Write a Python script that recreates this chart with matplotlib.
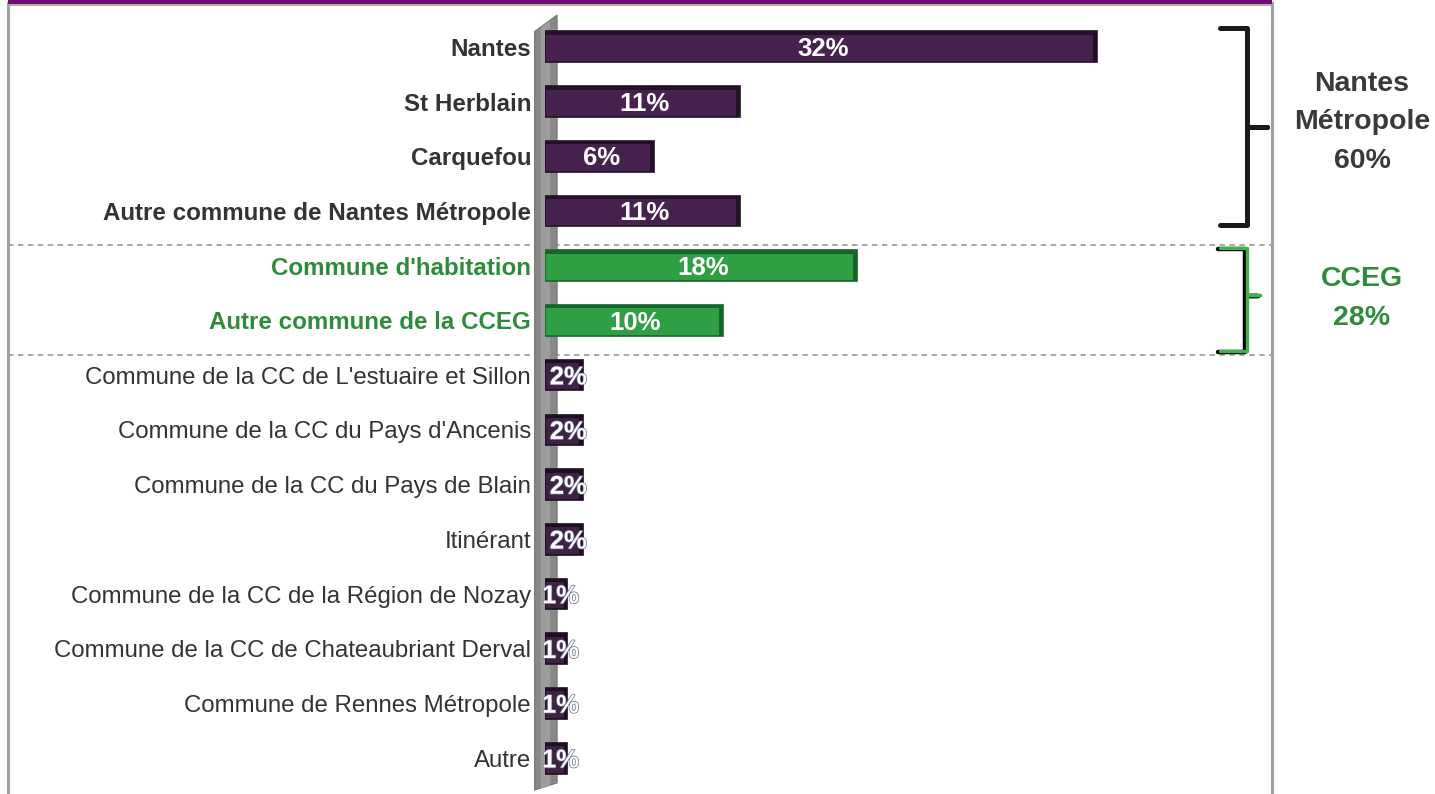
import matplotlib
matplotlib.use("Agg")
import matplotlib.pyplot as plt
import matplotlib.patheffects as pe
from matplotlib.patches import Polygon, Rectangle

plt.rcParams['font.family'] = ['Liberation Sans', 'DejaVu Sans']

categories = [
    "Nantes", "St Herblain", "Carquefou", "Autre commune de Nantes Métropole",
    "Commune d'habitation", "Autre commune de la CCEG",
    "Commune de la CC de L'estuaire et Sillon", "Commune de la CC du Pays d'Ancenis",
    "Commune de la CC du Pays de Blain", "Itinérant",
    "Commune de la CC de la Région de Nozay", "Commune de la CC de Chateaubriant Derval",
    "Commune de Rennes Métropole", "Autre",
]
values = [32.0, 11.3, 6.3, 11.3, 18.1, 10.3, 2.2, 2.2, 2.2, 2.2, 1.3, 1.3, 1.3, 1.3]
value_labels = ["32%", "11%", "6%", "11%", "18%", "10%", "2%", "2%", "2%", "2%",
                "1%", "1%", "1%", "1%"]
groups = ["nm", "nm", "nm", "nm", "cceg", "cceg", "o", "o", "o", "o", "o", "o", "o", "o"]
group_names = ["Nantes\nMétropole\n60%", "CCEG\n28%"]

W, H = 1435, 794
fig = plt.figure(figsize=(W / 100, H / 100), dpi=100)
fig.patch.set_facecolor('white')

# frame (overlay axes in pixel coords)
fr = fig.add_axes([0, 0, 1, 1])
fr.set_xlim(0, W)
fr.set_ylim(H, 0)
fr.axis('off')
fr.add_patch(Rectangle((8, 0), 1264, 3.5, color='#6d0f70', lw=0, zorder=3))
fr.plot([8, 1272], [4.5, 4.5], color='#a0a0a0', lw=1.2)
fr.plot([7.5, 7.5], [3, H], color='#a0a0a0', lw=2.2)
fr.plot([1271.5, 1271.5], [3, H], color='#a0a0a0', lw=2.2)

ppx = 17.25
x0 = 545
ax = fig.add_axes([x0 / W, 1 - 790 / H, (1272 - x0) / W, (790 - 20) / H])
ax.set_xlim(0, (1272 - x0) / ppx)
n = len(categories)
ax.set_ylim(13.58, -0.49)
ax.patch.set_alpha(0)
for s in ax.spines.values():
    s.set_visible(False)
ax.set_xticks([])

# 3D wall
wall = Polygon([(-0.6, -0.28), (0.7, -0.58), (0.7, 13.45), (-0.6, 13.58)],
               closed=True, facecolor='#888888', edgecolor='#747474', lw=0.8, zorder=1,
               clip_on=False)
ax.add_patch(wall)
ax.add_patch(Polygon([(-0.25, -0.35), (0.3, -0.48), (0.3, 13.5), (-0.25, 13.55)],
                     closed=True, facecolor='#9c9c9c', lw=0, zorder=1, clip_on=False))

colors = {'nm': '#47224f', 'cceg': '#2ea043', 'o': '#3f2145'}
dark = {'nm': '#241028', 'cceg': '#17642a', 'o': '#1e0e22'}
ypos = list(range(n))
bar_colors = [colors[g] for g in groups]
edge_colors = [dark[g] for g in groups]
ax.barh(ypos, values, height=0.56, color=bar_colors, edgecolor=edge_colors,
        linewidth=1.2, zorder=2)
# top dark edge and end face for 3D look
ax.barh([y - 0.25 for y in ypos], values, height=0.06, color=edge_colors, lw=0, zorder=3)
ax.barh(ypos, [0.22] * n, left=[v - 0.22 for v in values], height=0.56,
        color=edge_colors, lw=0, zorder=3)

for y, v, lab in zip(ypos, values, value_labels):
    big = v > 5
    ax.text(v / 2 + (0.1 if big else 0.25), y + 0.04, lab, ha='center', va='center',
            color='white', fontsize=18.5, fontweight='bold', zorder=5,
            path_effects=[pe.withStroke(linewidth=1.0, foreground='#6a6a8a')] if not big else None)

ax.set_yticks(ypos)
ax.set_yticklabels(categories)
ax.tick_params(axis='y', length=0, pad=10)
for lab, g in zip(ax.get_yticklabels(), groups):
    if g == 'nm':
        lab.set_fontweight('bold'); lab.set_color('#333333'); lab.set_fontsize(17.4)
    elif g == 'cceg':
        lab.set_fontweight('bold'); lab.set_color('#2e8b3c'); lab.set_fontsize(17.4)
    else:
        lab.set_color('#333333'); lab.set_fontsize(17.3)

# dashed separators
tr = ax.get_yaxis_transform()
xl = (8 - x0) / (1272 - x0)
for yy in (3.63, 5.63):
    ax.plot([xl, 1.0], [yy, yy], transform=tr, color='#a0a0a0', lw=1.3,
            ls=(0, (3, 2.5)), clip_on=False, zorder=0)

# brackets
def bracket(y1, y2, ym, color, shadow, nub):
    bx = (1247 - x0) / (1272 - x0)
    lx = (1220 - x0) / (1272 - x0)
    nx = (nub - x0) / (1272 - x0)
    xs = [lx, bx, bx, nx, bx, bx, lx]
    ys = [y1, y1, ym, ym, ym, y2, y2]
    if shadow:
        ax.plot([x - 0.003 for x in xs], [yy + 0.02 for yy in ys], transform=tr,
                color='black', lw=3.2, clip_on=False, solid_joinstyle='round',
                solid_capstyle='round', zorder=6)
        ax.plot(xs, ys, transform=tr, color=color, lw=2.4, clip_on=False,
                solid_joinstyle='round', solid_capstyle='round', zorder=7)
    else:
        ax.plot(xs, ys, transform=tr, color=color, lw=3.6, clip_on=False,
                solid_joinstyle='round', solid_capstyle='round', zorder=6)

bracket(-0.34, 3.25, 1.46, '#1a1a1a', False, 1267)
bracket(3.68, 5.55, 4.53, '#3cb44b', True, 1260)

gx = (1362 - x0) / (1272 - x0)
ax.text(gx, 1.38, group_names[0], transform=tr, ha='center', va='center',
        fontsize=20.5, fontweight='bold', color='#3a3a3a', linespacing=1.62, clip_on=False)
ax.text(gx, 4.6, group_names[1], transform=tr, ha='center', va='center',
        fontsize=20.5, fontweight='bold', color='#2e8b3c', linespacing=1.62, clip_on=False)

fig.savefig('out.png', dpi=100, facecolor='white')
